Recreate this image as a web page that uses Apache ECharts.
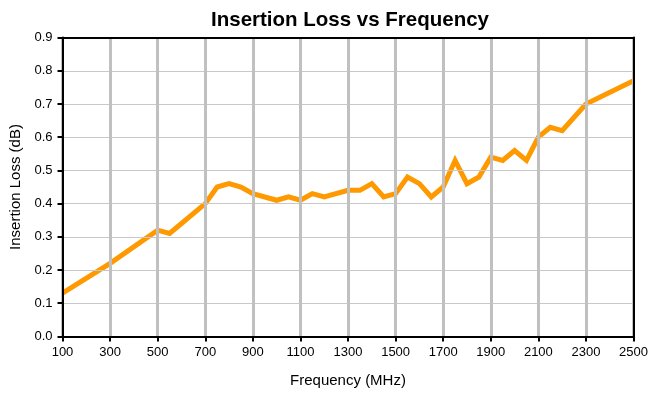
<!DOCTYPE html>
<html>
<head>
<meta charset="utf-8">
<script src="https://cdn.jsdelivr.net/npm/echarts@6/dist/echarts.min.js"></script>
<style>
  html, body { margin: 0; padding: 0; background: #fff; }
  #chart { width: 651px; height: 394px; }
</style>
</head>
<body>
<div id="chart"></div>
<script>
// Measured insertion loss of the part across its band
const frequencies = [100, 300, 500, 550, 600, 700, 750, 800, 850, 900, 1000, 1050, 1100, 1150, 1200,
  1300, 1350, 1400, 1450, 1500, 1550, 1600, 1650, 1700, 1750, 1800, 1850, 1900, 1950, 2000,
  2050, 2100, 2150, 2200, 2300, 2500];
const lossDb = [0.13, 0.22, 0.32, 0.31, 0.34, 0.40, 0.45, 0.46, 0.45, 0.43, 0.41, 0.42, 0.41, 0.43, 0.42,
  0.44, 0.44, 0.46, 0.42, 0.43, 0.48, 0.46, 0.42, 0.45, 0.53, 0.46, 0.48, 0.54, 0.53, 0.56,
  0.53, 0.60, 0.63, 0.62, 0.70, 0.77];

// Frequency axis starts at 100 MHz with ticks every 200 MHz
const freqStart = 100;
const freqEnd = 2500;
const freqStep = 200;

const FONT = '"Liberation Sans", Arial, sans-serif';

const chart = echarts.init(document.getElementById('chart'), null, { renderer: 'canvas' });

// Plot against offset frequency so ticks land on 100, 300, 500 ...
const points = frequencies.map((f, i) => [f - freqStart, lossDb[i]]);

// Plain black edge used to close the plot frame on the top and right
const frameAxis = {
  axisLine: { show: true, onZero: false, lineStyle: { color: '#000', width: 2 } },
  axisTick: { show: false },
  axisLabel: { show: false },
  splitLine: { show: false },
  z: 10
};

chart.setOption({
  animation: false,
  backgroundColor: '#ffffff',
  title: {
    text: 'Insertion Loss vs Frequency',
    left: 345,
    top: 5,
    textAlign: 'center',
    textStyle: { fontFamily: FONT, fontSize: 20.5, fontWeight: 'bold', color: '#000' }
  },
  grid: {
    left: 62.5,
    right: 14,
    top: 37.6,
    bottom: 57.6
  },
  xAxis: [{
    type: 'value',
    min: 0,
    max: freqEnd - freqStart,
    interval: freqStep,
    name: 'Frequency (MHz)',
    nameLocation: 'middle',
    nameGap: 37,
    nameTextStyle: { fontFamily: FONT, fontSize: 15, color: '#000' },
    axisLine: { show: true, onZero: false, lineStyle: { color: '#000', width: 2 } },
    axisTick: { show: true, length: 5, lineStyle: { color: '#000', width: 2 } },
    axisLabel: {
      fontFamily: FONT, fontSize: 13, color: '#000', margin: 10,
      formatter: v => String(v + freqStart)
    },
    splitLine: { show: true, lineStyle: { color: '#c0c0c0', width: 3 } },
    z: 9
  }, Object.assign({
    type: 'value', position: 'top', min: 0, max: freqEnd - freqStart, interval: freqStep
  }, frameAxis)],
  yAxis: [{
    type: 'value',
    min: 0,
    max: 0.9,
    interval: 0.1,
    name: 'Insertion Loss (dB)',
    nameLocation: 'middle',
    nameGap: 36,
    nameRotate: 90,
    nameTextStyle: { fontFamily: FONT, fontSize: 15, color: '#000' },
    axisLine: { show: true, onZero: false, lineStyle: { color: '#000', width: 2 } },
    axisTick: { show: true, length: 5, lineStyle: { color: '#000', width: 2 } },
    axisLabel: {
      fontFamily: FONT, fontSize: 13, color: '#000', margin: 10,
      formatter: v => v.toFixed(1)
    },
    splitLine: { show: true, lineStyle: { color: '#c8c8c8', width: 1.2 } },
    z: 9
  }, Object.assign({
    type: 'value', position: 'right', min: 0, max: 0.9, interval: 0.1
  }, frameAxis)],
  series: [{
    type: 'line',
    data: points,
    showSymbol: false,
    symbol: 'none',
    lineStyle: { color: '#ff9900', width: 5, join: 'miter' },
    z: 5
  }]
});
</script>
</body>
</html>
